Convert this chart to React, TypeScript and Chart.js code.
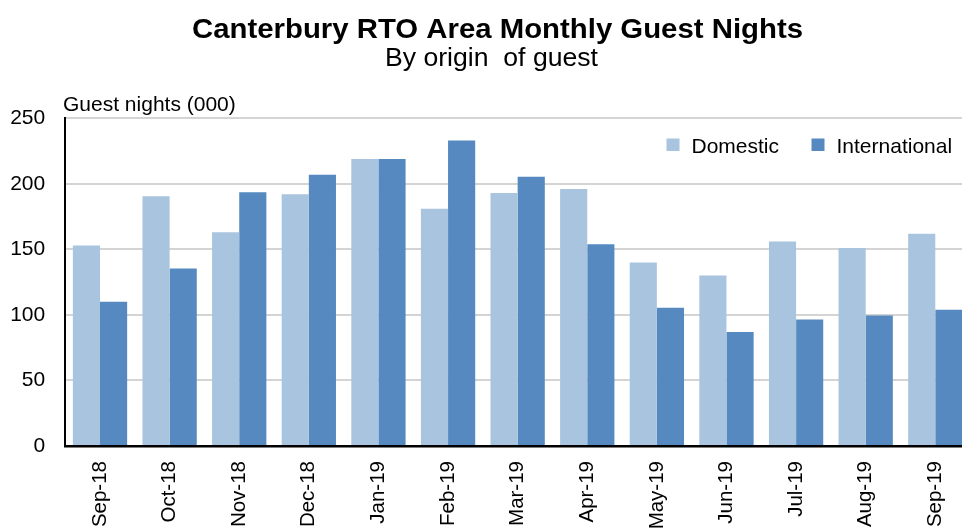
import React, { useEffect, useRef } from "react";
import { Chart, registerables } from "chart.js";

Chart.register(...registerables);

const categories = ["Sep-18", "Oct-18", "Nov-18", "Dec-18", "Jan-19", "Feb-19", "Mar-19", "Apr-19", "May-19", "Jun-19", "Jul-19", "Aug-19", "Sep-19"];
const domestic = [153, 190.5, 163, 192, 219, 181, 193, 196, 140, 130, 156, 151, 162];
const international = [110, 135.5, 193.5, 207, 219, 233, 205.5, 154, 105.5, 87, 96.5, 99.5, 104];
const seriesNames = ["Domestic", "International"];
const seriesColors = ["#A9C4DF", "#5589C0"];
const yTicks = [0, 50, 100, 150, 200, 250];

const TITLE = "Canterbury RTO Area Monthly Guest Nights";
const SUBTITLE = "By origin  of guest";
const Y_TITLE = "Guest nights (000)";
const FONT = '"Liberation Sans", Arial, sans-serif';

function drawFitted(ctx: CanvasRenderingContext2D, text: string, cx: number, y: number, width: number) {
  const w = ctx.measureText(text).width;
  ctx.save();
  ctx.translate(cx, y);
  ctx.scale(width / w, 1);
  ctx.textAlign = "center";
  ctx.fillText(text, 0, 0);
  ctx.restore();
}

const overlayPlugin = {
  id: "overlayText",
  afterDraw(chart: any) {
    const ctx = chart.ctx as CanvasRenderingContext2D;
    ctx.save();
    ctx.fillStyle = "#000";
    ctx.textBaseline = "alphabetic";

    ctx.font = `bold 28px ${FONT}`;
    drawFitted(ctx, TITLE, 497.5, 37.5, 611);

    ctx.font = `25px ${FONT}`;
    drawFitted(ctx, SUBTITLE, 491.5, 66, 213);

    ctx.textAlign = "left";
    ctx.font = `21px ${FONT}`;
    ctx.fillText(Y_TITLE, 63, 110.5);

    const items = chart.data.datasets;
    const xs = [666.5, 811.5];
    items.forEach((ds: any, i: number) => {
      ctx.fillStyle = ds.backgroundColor;
      ctx.fillRect(xs[i], 138.5, 13, 12.5);
      ctx.fillStyle = "#000";
      ctx.fillText(ds.label, xs[i] + 25, 152.5);
    });
    ctx.restore();
  },
};

export default function App() {
  const ref = useRef<HTMLCanvasElement | null>(null);
  useEffect(() => {
    if (!ref.current) return;
    const chart = new Chart(ref.current, {
      type: "bar",
      data: {
        labels: categories,
        datasets: [
          { label: seriesNames[0], data: domestic, backgroundColor: seriesColors[0], borderWidth: 0 },
          { label: seriesNames[1], data: international, backgroundColor: seriesColors[1], borderWidth: 0 },
        ],
      },
      options: {
        responsive: false,
        animation: false,
        devicePixelRatio: 1,
        layout: { padding: { top: 118.3, right: 2.5, left: 0, bottom: 0 } },
        datasets: { bar: { barPercentage: 1.0, categoryPercentage: 0.78 } },
        plugins: {
          legend: { display: false },
          title: { display: false },
          tooltip: { enabled: false },
        },
        scales: {
          x: {
            grid: { display: false, drawTicks: false },
            border: { display: true, color: "#000", width: 2.5 },
            ticks: {
              color: "#000",
              font: { family: FONT, size: 20.5 },
              minRotation: 90,
              maxRotation: 90,
              autoSkip: false,
              padding: 15,
            },
            afterFit: (scale: any) => {
              scale.height = 85;
            },
          },
          y: {
            min: 0,
            max: 250,
            afterBuildTicks: (scale: any) => {
              scale.ticks = yTicks.map((v) => ({ value: v }));
            },
            grid: { color: "#D4D4D4", lineWidth: 2, drawTicks: false },
            border: { display: true, color: "#000", width: 2 },
            ticks: {
              color: "#000",
              font: { family: FONT, size: 21 },
              padding: 20,
            },
            afterFit: (scale: any) => {
              scale.width = 65.2;
            },
          },
        },
      },
      plugins: [overlayPlugin],
    });
    return () => chart.destroy();
  }, []);

  return (
    <div style={{ position: "fixed", left: 0, top: 0, width: 962, height: 531, overflow: "hidden", background: "#fff" }}>
      <canvas ref={ref} width={975} height={531} style={{ display: "block", width: 975, height: 531 }} />
    </div>
  );
}
